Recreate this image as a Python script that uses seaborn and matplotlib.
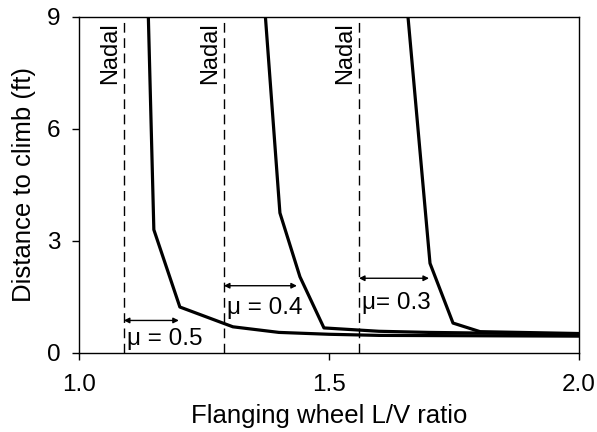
import pandas as pd
import matplotlib.pyplot as plt
import seaborn as sns

# Curve data (L/V ratio vs distance to climb, ft)
mu05_lv = [1.139, 1.150, 1.202, 1.308, 1.40, 1.50, 1.60, 2.0]
mu05_dist = [9.0, 3.3, 1.23, 0.70, 0.55, 0.50, 0.47, 0.45]
mu04_lv = [1.373, 1.402, 1.442, 1.490, 1.60, 1.70, 2.0]
mu04_dist = [9.0, 3.75, 2.04, 0.67, 0.58, 0.55, 0.50]
mu03_lv = [1.658, 1.702, 1.748, 1.802, 2.0]
mu03_dist = [9.0, 2.4, 0.80, 0.57, 0.52]

# Nadal limits and arrow tips for each friction coefficient
mu_labels = ["\u03bc = 0.5", "\u03bc = 0.4", "\u03bc= 0.3"]
nadal_lv = [1.09, 1.29, 1.56]
arrow_end = [1.20, 1.436, 1.70]
arrow_y = [0.87, 1.8, 2.0]
label_y = [0.38, 1.2, 1.35]

df = pd.concat([
    pd.DataFrame({"lv": mu05_lv, "dist": mu05_dist, "mu": "0.5"}),
    pd.DataFrame({"lv": mu04_lv, "dist": mu04_dist, "mu": "0.4"}),
    pd.DataFrame({"lv": mu03_lv, "dist": mu03_dist, "mu": "0.3"}),
], ignore_index=True)

sns.set_style("ticks")
plt.rcParams["font.family"] = ["Liberation Sans", "DejaVu Sans"]
plt.rcParams["text.color"] = "black"
plt.rcParams["axes.labelcolor"] = "black"
plt.rcParams["xtick.color"] = "black"
plt.rcParams["ytick.color"] = "black"

fig = plt.figure(figsize=(5.97, 4.32), dpi=100)
ax = fig.add_axes([0.132, 0.183, 0.838, 0.778])

sns.lineplot(
    data=df, x="lv", y="dist", units="mu", estimator=None, sort=False,
    color="black", linewidth=2.3, ax=ax, legend=False
)

for x0, x1, ya, yl, lab in zip(nadal_lv, arrow_end, arrow_y, label_y, mu_labels):
    ax.axvline(x0, color="black", linestyle=(0, (7, 4)), linewidth=1.0)
    ax.text(x0 - 0.005, 8.85, "Nadal", rotation=90, ha="right", va="top",
            fontsize=17)
    ax.annotate("", xy=(x1, ya), xytext=(x0, ya),
                arrowprops=dict(arrowstyle="<|-|>", color="black", lw=1.0,
                                mutation_scale=8, shrinkA=0, shrinkB=0))
    ax.text(x0 + 0.006, yl, lab, ha="left", va="center", fontsize=17.5)

ax.set_xlim(1.0, 2.0)
ax.set_ylim(0, 9)
ax.set_xticks([1.0, 1.5, 2.0])
ax.set_xticklabels(["1.0", "1.5", "2.0"])
ax.set_yticks([0, 3, 6, 9])
ax.tick_params(labelsize=17.5, length=5, width=1, color="black",
               labelcolor="black")
ax.tick_params(axis="x", pad=10)
ax.tick_params(axis="y", pad=8)
ax.set_xlabel("Flanging wheel L/V ratio", fontsize=18.5, labelpad=6)
ax.set_ylabel("Distance to climb (ft)", fontsize=18.5, labelpad=8)
for s in ax.spines.values():
    s.set_visible(True)
    s.set_color("black")
    s.set_linewidth(1.0)

fig.savefig("out.png", dpi=100)
